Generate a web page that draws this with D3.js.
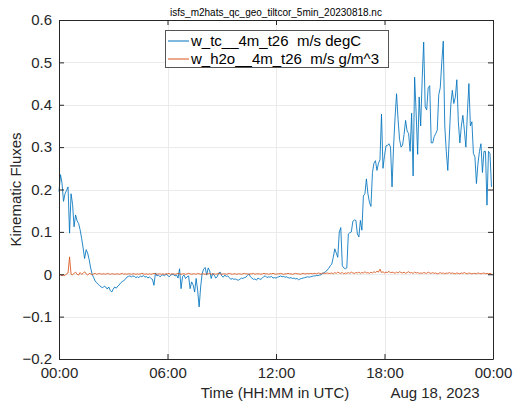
<!DOCTYPE html>
<html>
<head>
<meta charset="utf-8">
<script src="https://cdn.jsdelivr.net/npm/d3@7"></script>
<style>
body { margin: 0; background: #fff; }
svg { font-family: "Liberation Sans", Arial, Helvetica, sans-serif; }
.grid line { stroke: #ebebeb; stroke-width: 1; }
.tick-label { fill: #262626; font-size: 15px; }
.legend text { white-space: pre; }
</style>
</head>
<body>
<svg id="chart"></svg>
<script>
var width = 513;
var height = 403;
var axLeft = 59, axRight = 493, axTop = 20, axBottom = 359;

var title = "isfs_m2hats_qc_geo_tiltcor_5min_20230818.nc";
var seriesNames = ["w_tc__4m_t26  m/s degC", "w_h2o__4m_t26  m/s g/m^3"];
var seriesColors = ["#0072BD", "#D95319"];
var yTicks = [-0.2, -0.1, 0, 0.1, 0.2, 0.3, 0.4, 0.5, 0.6];
var xTickHours = [0, 6, 12, 18, 24];
var stepMinutes = 5;

// w_tc, one value every 5 minutes (one row = one hour)
var wTc = [
	0.195, 0.235, 0.215, 0.172, 0.19, 0.198, 0.206, 0.097, 0.19, 0.165, 0.112, 0.14,
	0.126, 0.12, 0.105, 0.085, 0.062, 0.037, 0.058, 0.05, 0.035, 0.015, 0.0, -0.008,
	-0.016, -0.02, -0.024, -0.027, -0.03, -0.032, -0.028, -0.03, -0.035, -0.03, -0.038, -0.042,
	-0.035, -0.03, -0.033, -0.028, -0.025, -0.02, -0.017, -0.015, -0.012, -0.007, -0.005, -0.004,
	-0.006, -0.004, -0.005, -0.008, -0.006, -0.008, -0.004, -0.006, -0.003, -0.007, -0.005, -0.009,
	-0.006, -0.01, -0.012, -0.026, 0.003, -0.004, -0.002, -0.006, -0.003, -0.001, -0.004, 0.0,
	-0.002, -0.006, -0.003, 0.0, -0.001, -0.004, -0.002, -0.009, 0.013, -0.034, -0.005, -0.002,
	-0.01, -0.006, -0.004, -0.034, -0.018, -0.025, -0.042, -0.01, -0.038, -0.077, -0.03, 0.002,
	0.012, 0.016, -0.002, 0.015, 0.008, -0.01, 0.002, -0.002, -0.009, -0.006, 0.003, 0.005,
	-0.004, -0.007, -0.002, -0.005, -0.004, -0.008, -0.012, -0.01, -0.012, -0.011, -0.013, -0.014,
	-0.012, -0.009, -0.01, -0.008, -0.007, -0.003, 0.001, -0.006, -0.009, -0.012, -0.011, -0.014,
	-0.009, -0.011, -0.012, -0.009, -0.005, -0.004, -0.008, -0.006, -0.007, -0.005, -0.009, -0.008,
	-0.009, -0.007, -0.006, -0.004, -0.006, -0.005, -0.007, -0.006, -0.008, -0.009, -0.008, -0.01,
	-0.009, -0.011, -0.01, -0.013, -0.011, -0.01, -0.009, -0.008, -0.007, -0.006, -0.007, -0.006,
	-0.005, -0.004, -0.004, -0.003, -0.003, -0.002, -0.001, 0.002, 0.004, 0.006, 0.01, 0.014,
	0.02, 0.024, 0.04, 0.06, 0.05, 0.04, 0.1, 0.11, 0.02, 0.015, 0.013, 0.015,
	0.095, 0.098, 0.1, 0.125, 0.128, 0.127, 0.095, 0.088, 0.127, 0.104, 0.185, 0.19,
	0.225, 0.19, 0.17, 0.16, 0.24, 0.262, 0.268, 0.245, 0.262, 0.27, 0.378, 0.25,
	0.28, 0.303, 0.304, 0.308, 0.3, 0.206, 0.3, 0.37, 0.426, 0.365, 0.318, 0.3,
	0.305, 0.33, 0.363, 0.338, 0.332, 0.29, 0.38, 0.232, 0.465, 0.38, 0.283, 0.418,
	0.35, 0.46, 0.548, 0.395, 0.388, 0.44, 0.445, 0.31, 0.31, 0.325, 0.332, 0.34,
	0.424, 0.44, 0.5, 0.55, 0.35, 0.29, 0.245, 0.324, 0.4, 0.434, 0.403, 0.418,
	0.459, 0.36, 0.31, 0.35, 0.375, 0.34, 0.3, 0.38, 0.45, 0.35, 0.36, 0.285,
	0.277, 0.214, 0.26, 0.29, 0.308, 0.24, 0.29, 0.29, 0.163, 0.29, 0.285, 0.206
];

// w_h2o, same time steps
var wH2o = [
	0.002, -0.001, -0.004, -0.002, -0.003, 0.001, 0.003, 0.041, 0.0, -0.001, 0.002, 0.005,
	0.0, -0.002, 0.004, 0.0, 0.002, 0.006, 0.001, -0.002, 0.002, 0.001, -0.001, 0.001,
	0.002, 0.0, 0.001, 0.002, 0.0, 0.001, 0.001, 0.0, 0.002, 0.001, 0.0, 0.001,
	0.001, 0.0, 0.001, 0.001, 0.0, 0.001, 0.002, 0.0, 0.001, 0.0, 0.001, 0.001,
	0.0, 0.001, 0.001, 0.0, 0.001, 0.0, 0.001, 0.002, 0.001, 0.0, 0.001, 0.0,
	0.001, 0.0, 0.001, 0.002, 0.001, 0.0, 0.001, 0.001, 0.0, 0.001, 0.0, 0.001,
	0.001, 0.002, 0.0, 0.001, 0.001, 0.0, 0.001, 0.002, 0.001, 0.0, 0.001, 0.001,
	0.0, 0.001, 0.002, 0.001, 0.0, 0.001, 0.001, 0.0, 0.002, 0.001, 0.0, 0.001,
	0.001, 0.0, 0.001, 0.001, 0.002, 0.0, 0.001, 0.001, 0.0, 0.001, 0.002, 0.001,
	0.0, 0.001, 0.001, 0.0, 0.001, 0.002, 0.001, 0.0, 0.001, 0.001, 0.0, 0.001,
	0.001, 0.0, 0.001, 0.002, 0.001, 0.001, 0.0, 0.001, 0.001, 0.002, 0.0, 0.001,
	0.001, 0.001, 0.0, 0.001, 0.002, 0.001, 0.001, 0.0, 0.001, 0.001, 0.002, 0.001,
	0.0, 0.001, 0.001, 0.002, 0.001, 0.0, 0.001, 0.001, 0.002, 0.001, 0.001, 0.0,
	0.001, 0.002, 0.001, 0.001, 0.0, 0.001, 0.002, 0.001, 0.001, 0.002, 0.001, 0.002,
	0.001, 0.002, 0.002, 0.001, 0.003, 0.002, 0.001, 0.003, 0.002, 0.002, 0.003, 0.002,
	0.002, 0.003, 0.001, 0.004, 0.002, 0.005, 0.003, 0.002, 0.004, 0.001, 0.003, 0.002,
	0.004, 0.002, 0.005, 0.003, 0.002, 0.004, 0.003, 0.005, 0.002, 0.004, 0.003, 0.006,
	0.003, 0.004, 0.002, 0.005, 0.003, 0.006, 0.004, 0.007, 0.005, 0.012, 0.004, 0.006,
	0.003, 0.005, 0.004, 0.007, 0.003, 0.005, 0.004, 0.002, 0.005, 0.003, 0.006, 0.004,
	0.003, 0.005, 0.002, 0.004, 0.006, 0.003, 0.004, 0.002, 0.005, 0.003, 0.004, 0.002,
	0.003, 0.002, 0.004, 0.003, 0.002, 0.005, 0.003, 0.002, 0.004, 0.002, 0.003, 0.001,
	0.002, 0.004, 0.002, 0.003, 0.001, 0.003, 0.002, 0.004, 0.002, 0.003, 0.002, 0.001,
	0.003, 0.002, 0.001, 0.003, 0.002, 0.004, 0.002, 0.001, 0.003, 0.002, 0.001, 0.002,
	0.002, 0.001, 0.003, 0.002, 0.001, 0.002, 0.003, 0.001, 0.002, 0.001, 0.002, 0.001
];

var start = new Date(Date.UTC(2023, 7, 18, 0, 0));
var end = new Date(Date.UTC(2023, 7, 19, 0, 0));

var x = d3.scaleUtc().domain([start, end]).range([axLeft, axRight]);
var y = d3.scaleLinear().domain([-0.2, 0.6]).range([axBottom, axTop]);

function timeAt(i) {
	return new Date(start.getTime() + i * stepMinutes * 60000);
}

var svg = d3.select("#chart")
	.attr("width", width)
	.attr("height", height);

svg.append("rect")
	.attr("width", width).attr("height", height)
	.attr("fill", "#fff");

// grid
var grid = svg.append("g").attr("class", "grid");
grid.selectAll("line.gy").data(yTicks.slice(1, -1)).enter()
	.append("line").attr("class", "gy")
	.attr("x1", axLeft).attr("x2", axRight)
	.attr("y1", function(d) { return Math.round(y(d)) + 0.5; })
	.attr("y2", function(d) { return Math.round(y(d)) + 0.5; });
grid.selectAll("line.gx").data(xTickHours.slice(1, -1)).enter()
	.append("line").attr("class", "gx")
	.attr("y1", axTop).attr("y2", axBottom)
	.attr("x1", function(d) { return Math.round(x(d3.utcHour.offset(start, d))) + 0.5; })
	.attr("x2", function(d) { return Math.round(x(d3.utcHour.offset(start, d))) + 0.5; });

// series
var line = d3.line()
	.x(function(d, i) { return x(timeAt(i)); })
	.y(function(d) { return y(d); });

svg.append("path").datum(wTc)
	.attr("d", line)
	.attr("fill", "none")
	.attr("stroke", seriesColors[0])
	.attr("stroke-width", 0.85)
	.attr("stroke-linejoin", "round");

svg.append("path").datum(wH2o)
	.attr("d", line)
	.attr("fill", "none")
	.attr("stroke", seriesColors[1])
	.attr("stroke-width", 0.85)
	.attr("stroke-linejoin", "round");

// axes box + inner ticks on all four sides
var axisColor = "#262626";
var tickLen = 5;
var xTicks = xTickHours.map(function(h) { return d3.utcHour.offset(start, h); });

svg.append("g")
	.attr("transform", "translate(0," + axBottom + ")")
	.call(d3.axisBottom(x).tickValues(xTicks).tickSizeInner(-tickLen).tickSizeOuter(0)
		.tickFormat(function(d) { return d3.utcFormat("%H:%M")(d); }).tickPadding(8))
	.call(function(g) {
		g.select(".domain").attr("stroke", axisColor);
		g.selectAll(".tick line").attr("stroke", axisColor);
		g.selectAll(".tick text").attr("class", "tick-label").attr("font-size", null)
			.attr("font-family", null).attr("fill", "#262626");
	});

svg.append("g")
	.attr("transform", "translate(0," + axTop + ")")
	.call(d3.axisTop(x).tickValues(xTicks).tickSizeInner(-tickLen).tickSizeOuter(0).tickFormat(""))
	.call(function(g) {
		g.select(".domain").attr("stroke", axisColor);
		g.selectAll(".tick line").attr("stroke", axisColor);
	});

svg.append("g")
	.attr("transform", "translate(" + axLeft + ",0)")
	.call(d3.axisLeft(y).tickValues(yTicks).tickSizeInner(-tickLen).tickSizeOuter(0)
		.tickFormat(function(d) { return d3.format("")(+d.toFixed(1)); }).tickPadding(7))
	.call(function(g) {
		g.select(".domain").attr("stroke", axisColor);
		g.selectAll(".tick line").attr("stroke", axisColor);
		g.selectAll(".tick text").attr("class", "tick-label").attr("font-size", null)
			.attr("font-family", null).attr("fill", "#262626");
	});

svg.append("g")
	.attr("transform", "translate(" + axRight + ",0)")
	.call(d3.axisRight(y).tickValues(yTicks).tickSizeInner(-tickLen).tickSizeOuter(0).tickFormat(""))
	.call(function(g) {
		g.select(".domain").attr("stroke", axisColor);
		g.selectAll(".tick line").attr("stroke", axisColor);
	});

// texts
svg.append("text")
	.attr("x", (axLeft + axRight) / 2).attr("y", 16)
	.attr("text-anchor", "middle")
	.attr("font-size", 10)
	.attr("fill", "#000")
	.text(title);

svg.append("text")
	.attr("transform", "translate(21," + (axTop + axBottom) / 2 + ") rotate(-90)")
	.attr("text-anchor", "middle")
	.attr("font-size", 15)
	.attr("fill", "#262626")
	.text("Kinematic Fluxes");

svg.append("text")
	.attr("x", 275).attr("y", 398)
	.attr("text-anchor", "middle")
	.attr("font-size", 15)
	.attr("fill", "#262626")
	.text("Time (HH:MM in UTC)");

svg.append("text")
	.attr("x", 435).attr("y", 398)
	.attr("text-anchor", "middle")
	.attr("font-size", 15)
	.attr("fill", "#262626")
	.text("Aug 18, 2023");

// legend
var legend = svg.append("g").attr("class", "legend").attr("transform", "translate(165,30)");
legend.append("rect")
	.attr("x", 0.5).attr("y", 0.5)
	.attr("width", 223).attr("height", 37)
	.attr("fill", "#fff")
	.attr("stroke", "#555");
var rows = legend.selectAll("g.row").data(seriesNames).enter()
	.append("g").attr("class", "row")
	.attr("transform", function(d, i) { return "translate(0," + (11 + i * 18) + ")"; });
rows.append("line")
	.attr("x1", 3).attr("x2", 24)
	.attr("stroke", function(d, i) { return seriesColors[i]; })
	.attr("stroke-width", 1);
rows.append("text")
	.attr("x", 26).attr("y", 5)
	.attr("font-size", 15)
	.attr("fill", "#000")
	.text(function(d) { return d; });
</script>
</body>
</html>
